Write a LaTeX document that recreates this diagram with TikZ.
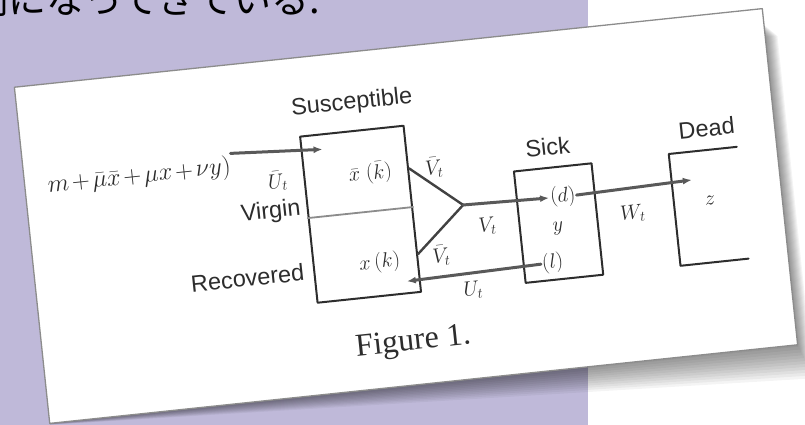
\documentclass[tikz,border=0pt]{standalone}
\usepackage{fontspec}
\setmainfont{Liberation Serif}
\setsansfont{Liberation Sans}
\newfontfamily\jpfont{Noto Sans CJK JP}
\usetikzlibrary{arrows.meta,calc}
\definecolor{lav}{RGB}{191,185,217}
\definecolor{ink}{RGB}{45,45,45}
\tikzset{
  jptext/.style={anchor=base west,inner sep=0pt,font=\jpfont\fontsize{38}{40}\selectfont},
  box/.style={draw=ink,line width=2pt,inner sep=0pt},
  lbl/.style={inner sep=1pt,text=ink,font=\sffamily\fontsize{23.5}{26}\selectfont},
  mlbl/.style={inner sep=1pt,text=ink,font=\fontsize{21}{23}\selectfont},
  branch/.style={draw=ink!90,line width=2.4pt},
  flow/.style={draw=black!65,line width=3pt,-{Latex[length=9pt,width=7pt]}},
  caption/.style={inner sep=1pt,text=ink,font=\rmfamily\fontsize{32}{34}\selectfont}
}
\begin{document}
\begin{tikzpicture}[x=1pt,y=-1pt,line cap=round,line join=round]
  \useasboundingbox (0,0) rectangle (805,425);
  \clip (0,0) rectangle (805,425);
  \fill[lav] (0,0) rectangle (588,425);
  \node[jptext] (intro) at (-30,14) {例になってきている.};
  \begin{scope}[shift={(406,216)},rotate=6,every node/.append style={transform shape}]
    \foreach \s in {2,5,...,35}
      \fill[black,opacity=0.045] (-376,150) -- (360,-169) -- (376+0.35*\s,-140)
        -- (376+0.35*\s,169+\s) -- (-376,169+0.04*\s) -- cycle;
    \filldraw[fill=white,draw=black!45,line width=1.3pt] (-376,-169) rectangle (376,169);
    % compartments
    \node[box,minimum width=104,minimum height=167] (sus) at (-45,-6.5) {};
    \node[box,minimum width=78,minimum height=112] (sick) at (151,23) {};
    \node[inner sep=0pt,minimum width=68,minimum height=112] (dead) at (302,22) {};
    \draw[box] (dead.north east) -- (dead.north west) -- (dead.south west) -- (dead.south east);
    \draw[draw=black!45,line width=1.8pt] ($(sus.north west)!0.49!(sus.south west)$)
      -- ($(sus.north east)!0.49!(sus.south east)$);
    % labels
    \node[lbl] (suslab) at (-42,-118) {Susceptible};
    \node[lbl] (sicklab) at (148,-54) {Sick};
    \node[lbl] (deadlab) at (308,-56) {Dead};
    \node[lbl,anchor=east] (virgin) at (-103,-18) {Virgin};
    \node[lbl,anchor=east] (recov) at (-106,45) {Recovered};
    \node[mlbl,anchor=east,font=\fontsize{23}{25}\selectfont]
      (inflow) at (-168,-67) {$\medmuskip=2mu m+\bar{\mu}\bar{x}+\mu x+\nu y)$};
    \node[mlbl] (ubar) at (-124,-48) {$\bar{U}_t$};
    \node[mlbl] (xbar) at (-31,-46) {$\bar{x}\;(\bar{k})$};
    \node[mlbl] (xk) at (-31,44) {$x\,(k)$};
    \node[mlbl] (vbarup) at (33,-45) {$\bar{V}_t$};
    \node[mlbl] (vbarlo) at (31,43) {$\bar{V}_t$};
    \node[mlbl] (vt) at (80,19) {$V_t$};
    \node[mlbl] (d) at (158,-3) {$(d)$};
    \node[mlbl] (y) at (150,28) {$y$};
    \node[mlbl] (l) at (141,62) {$(l)$};
    \node[mlbl] (ut) at (59,81) {$U_t$};
    \node[mlbl] (wt) at (226,21) {$W_t$};
    \node[mlbl] (z) at (304,16) {$z$};
    \node[caption] (fig) at (-6,127) {Figure 1.};
    % flows
    \coordinate (join) at (58,-5);
    \coordinate (inend) at (-76,-75);
    \coordinate (wend) at (288,-6);
    \coordinate (uend) at (-6,65);
    \draw[flow] (inflow.north east) -- (inend);
    \draw[branch] ($(sus.north east)!0.26!(sus.south east)$) -- (join);
    \draw[branch] ($(sus.north east)!0.77!(sus.south east)$) -- (join);
    \draw[flow] (join) -- (d.west);
    \draw[flow] (d.east) -- (wend);
    \draw[flow] (l.west) -- (uend);
  \end{scope}
\end{tikzpicture}
\end{document}
